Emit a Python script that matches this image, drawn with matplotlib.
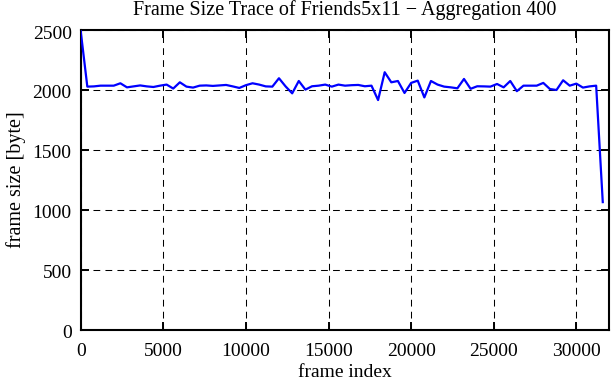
import matplotlib
matplotlib.use("Agg")
import matplotlib.pyplot as plt
import matplotlib.transforms as mtransforms
import numpy as np

# Aggregated frame sizes, one value per 400 frames
aggregation = 400
frame_index = np.arange(0, 31601, aggregation)
frame_size = [
    2490, 2028, 2030, 2036, 2036, 2036, 2056, 2022, 2030, 2038,
    2030, 2025, 2036, 2045, 2012, 2064, 2028, 2020, 2036, 2038,
    2034, 2038, 2042, 2030, 2017, 2040, 2056, 2045, 2030, 2028,
    2098, 2030, 1972, 2075, 2003, 2031, 2036, 2045, 2028, 2045,
    2036, 2040, 2042, 2031, 2036, 1916, 2148, 2064, 2075, 1975,
    2059, 2078, 1938, 2075, 2045, 2028, 2022, 2014, 2092, 2010,
    2031, 2030, 2028, 2050, 2022, 2075, 1990, 2036, 2036, 2036,
    2059, 2008, 2000, 2081, 2036, 2053, 2020, 2030, 2036, 1065,
]
x_ticks = [0, 5000, 10000, 15000, 20000, 25000, 30000]
y_ticks = [0, 500, 1000, 1500, 2000, 2500]

plt.rcParams['font.family'] = ['Liberation Serif', 'DejaVu Serif']

fig = plt.figure(figsize=(6.11, 3.8), dpi=100)
ax = fig.add_axes([0.1321, 0.132, 0.8647, 0.789])

ax.plot(frame_index, frame_size, color='#0000ff', linewidth=1.6, zorder=3)

ax.set_xlim(0, 31980)
ax.set_ylim(0, 2500)
ax.set_xticks(x_ticks)
ax.set_yticks(y_ticks)

ax.grid(True, color='black', linestyle=(0, (6.5, 5)), linewidth=0.75)
ax.tick_params(direction='in', length=5.8, width=1.4, top=True, right=True,
               labelsize=14)
ax.tick_params(axis='x', pad=9.4)
ax.tick_params(axis='y', pad=6.5)
for spine in ax.spines.values():
    spine.set_linewidth(1.5)

# gnuplot puts the y tick labels a touch below the tick
shift = mtransforms.ScaledTranslation(0, -2 / 100, fig.dpi_scale_trans)
for lbl in ax.get_yticklabels():
    lbl.set_transform(lbl.get_transform() + shift)

ax.set_title("Frame Size Trace of Friends5x11 \u2212 Aggregation 400", fontsize=14.5, pad=11)
ax.set_xlabel("frame index", fontsize=14, labelpad=3)
ax.set_ylabel("frame size [byte]", fontsize=14.5, labelpad=5)

fig.savefig("out.png", dpi=100)
